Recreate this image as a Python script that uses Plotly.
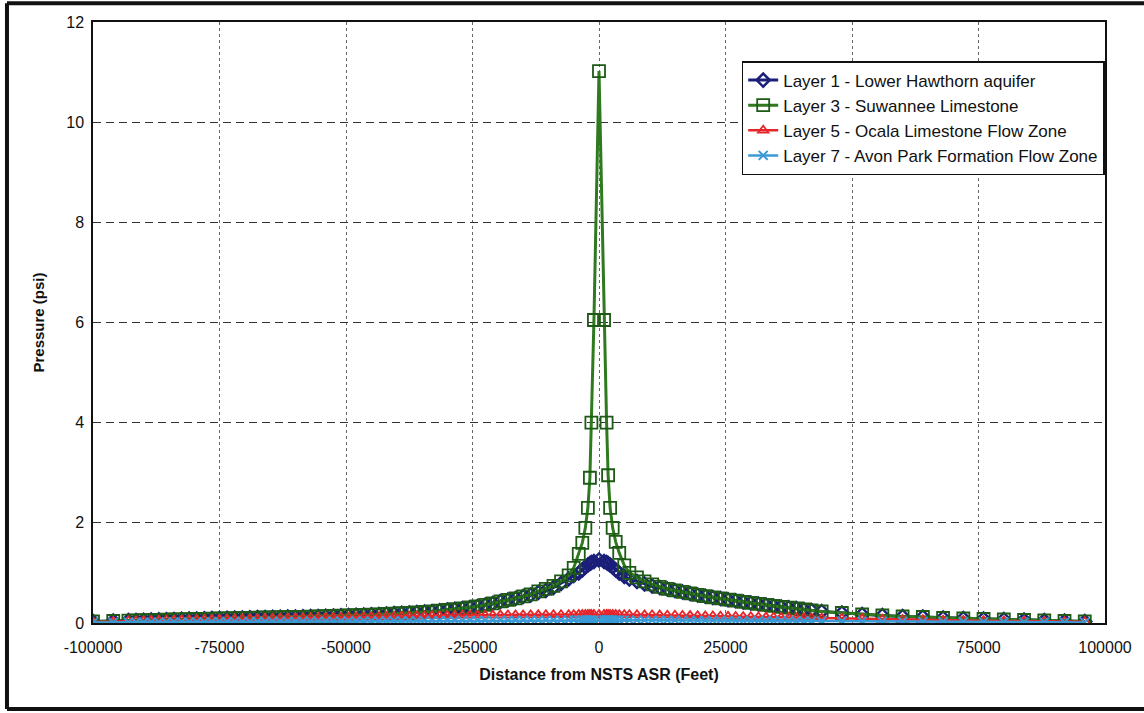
import plotly.graph_objects as go

# Distance from NSTS ASR (feet)
distance_ft = [
    -100000, -96000,
    -93000, -91500, -90000, -88500, -87000, -85500, -84000, -82500, -81000, -79500,
    -78000, -76500, -75000, -73500, -72000, -70500, -69000, -67500, -66000, -64500,
    -63000, -61500, -60000, -58500, -57000, -55500, -54000, -52500, -51000, -49500,
    -48000, -46500, -45000, -43500, -42000, -40500, -39000, -37500, -36000, -34500,
    -33000, -31500, -30000, -28500, -27000, -25500, -24000, -22500, -21000, -19500,
    -18000, -16500, -15000, -13500, -12000, -10500, -9000, -7500, -6000,
    -5000, -4000, -3300, -2700, -2200, -1800, -1500, -1000, 0,
    1000, 1500, 1800, 2200, 2700, 3300, 4000, 5000,
    6000, 7500, 9000, 10500, 12000, 13500, 15000, 16500, 18000, 19500,
    21000, 22500, 24000, 25500, 27000, 28500, 30000, 31500, 33000, 34500,
    36000, 37500, 39000, 40500, 42000,
    44000, 48000, 52000, 56000, 60000, 64000, 68000, 72000, 76000, 80000,
    84000, 88000, 92000, 96000,
]

# Layer 1 - Lower Hawthorn aquifer (psi)
layer1_psi = [
    0.03, 0.04,
    0.048, 0.052, 0.055, 0.058, 0.062, 0.065, 0.07, 0.073, 0.077, 0.08,
    0.084, 0.088, 0.09, 0.093, 0.097, 0.10, 0.103, 0.107, 0.11, 0.112,
    0.115, 0.118, 0.12, 0.124, 0.128, 0.131, 0.135, 0.14, 0.145, 0.15,
    0.155, 0.16, 0.165, 0.17, 0.18, 0.187, 0.195, 0.20, 0.21, 0.22,
    0.23, 0.245, 0.26, 0.275, 0.29, 0.31, 0.33, 0.36, 0.39, 0.43,
    0.46, 0.49, 0.53, 0.56, 0.61, 0.65, 0.71, 0.79, 0.88,
    0.95, 1.00, 1.06, 1.12, 1.16, 1.19, 1.21, 1.23, 1.26,
    1.23, 1.21, 1.19, 1.16, 1.12, 1.06, 1.00, 0.93,
    0.88, 0.83, 0.78, 0.74, 0.71, 0.68, 0.65, 0.62, 0.59, 0.56,
    0.535, 0.51, 0.49, 0.465, 0.445, 0.42, 0.40, 0.38, 0.36, 0.34,
    0.32, 0.305, 0.29, 0.27, 0.25,
    0.23, 0.20, 0.17, 0.15, 0.13, 0.12, 0.10, 0.09, 0.08, 0.07,
    0.06, 0.05, 0.04, 0.03,
]

# Layer 3 - Suwannee Limestone (psi)
layer3_psi = [
    0.03, 0.04,
    0.048, 0.052, 0.055, 0.058, 0.062, 0.065, 0.07, 0.073, 0.077, 0.08,
    0.084, 0.088, 0.09, 0.093, 0.097, 0.10, 0.103, 0.107, 0.11, 0.112,
    0.115, 0.118, 0.12, 0.124, 0.128, 0.131, 0.135, 0.14, 0.145, 0.15,
    0.155, 0.16, 0.165, 0.17, 0.18, 0.187, 0.195, 0.20, 0.21, 0.22,
    0.23, 0.245, 0.26, 0.275, 0.29, 0.31, 0.33, 0.36, 0.39, 0.43,
    0.46, 0.49, 0.53, 0.57, 0.63, 0.68, 0.74, 0.83, 0.95,
    1.10, 1.38, 1.60, 1.90, 2.30, 2.90, 4.00, 6.05, 11.02,
    6.05, 4.00, 2.95, 2.30, 1.90, 1.62, 1.40, 1.15,
    1.00, 0.91, 0.83, 0.77, 0.72, 0.68, 0.65, 0.62, 0.59, 0.56,
    0.535, 0.51, 0.49, 0.465, 0.445, 0.42, 0.40, 0.38, 0.36, 0.34,
    0.32, 0.305, 0.29, 0.27, 0.25,
    0.23, 0.20, 0.17, 0.15, 0.13, 0.12, 0.10, 0.09, 0.08, 0.07,
    0.06, 0.05, 0.04, 0.03,
]

# Layer 5 - Ocala Limestone Flow Zone (psi)
layer5_psi = [
    0.02, 0.03,
    0.04, 0.043, 0.046, 0.049, 0.052, 0.055, 0.058, 0.061, 0.064, 0.067,
    0.07, 0.072, 0.074, 0.077, 0.08, 0.082, 0.085, 0.087, 0.09, 0.092,
    0.095, 0.097, 0.10, 0.102, 0.105, 0.107, 0.11, 0.112, 0.115, 0.117,
    0.12, 0.122, 0.125, 0.127, 0.13, 0.132, 0.135, 0.137, 0.14, 0.142,
    0.144, 0.146, 0.148, 0.15, 0.152, 0.154, 0.155, 0.156, 0.157, 0.158,
    0.159, 0.16, 0.161, 0.162, 0.163, 0.164, 0.165, 0.165, 0.166,
    0.167, 0.168, 0.168, 0.169, 0.169, 0.17, 0.17, 0.17, 0.17,
    0.17, 0.17, 0.169, 0.169, 0.168, 0.168, 0.167, 0.166,
    0.165, 0.164, 0.162, 0.16, 0.158, 0.156, 0.154, 0.151, 0.148, 0.145,
    0.142, 0.139, 0.136, 0.133, 0.13, 0.127, 0.124, 0.121, 0.118, 0.115,
    0.112, 0.109, 0.106, 0.103, 0.10,
    0.097, 0.09, 0.083, 0.076, 0.07, 0.064, 0.058, 0.052, 0.047, 0.042,
    0.037, 0.033, 0.029, 0.025,
]

# Layer 7 - Avon Park Formation Flow Zone (psi)
layer7_psi = [
    0.01, 0.012,
    0.014, 0.015, 0.016, 0.017, 0.018, 0.019, 0.02, 0.021, 0.021, 0.022,
    0.023, 0.024, 0.025, 0.026, 0.027, 0.027, 0.028, 0.029, 0.03, 0.031,
    0.032, 0.033, 0.033, 0.034, 0.035, 0.036, 0.037, 0.038, 0.038, 0.039,
    0.04, 0.041, 0.042, 0.043, 0.044, 0.044, 0.045, 0.046, 0.047, 0.048,
    0.048, 0.049, 0.05, 0.05, 0.051, 0.052, 0.052, 0.053, 0.053, 0.054,
    0.054, 0.055, 0.055, 0.056, 0.056, 0.056, 0.057, 0.057, 0.057,
    0.058, 0.058, 0.059, 0.059, 0.06, 0.06, 0.06, 0.06, 0.06,
    0.06, 0.06, 0.06, 0.06, 0.059, 0.059, 0.058, 0.058,
    0.057, 0.057, 0.056, 0.056, 0.055, 0.055, 0.054, 0.053, 0.053, 0.052,
    0.051, 0.05, 0.05, 0.049, 0.048, 0.047, 0.046, 0.045, 0.045, 0.044,
    0.043, 0.042, 0.041, 0.04, 0.039,
    0.038, 0.036, 0.034, 0.032, 0.03, 0.028, 0.026, 0.024, 0.022, 0.02,
    0.018, 0.016, 0.014, 0.012,
]

series_names = [
    "Layer 1 - Lower Hawthorn aquifer",
    "Layer 3 - Suwannee Limestone",
    "Layer 5 - Ocala Limestone Flow Zone",
    "Layer 7 - Avon Park Formation Flow Zone",
]

x_ticks = [-100000, -75000, -50000, -25000, 0, 25000, 50000, 75000, 100000]
y_ticks = [0, 2, 4, 6, 8, 10, 12]

for arr in (layer1_psi, layer3_psi, layer5_psi, layer7_psi):
    assert len(arr) == len(distance_ft), len(arr)

FONT = "Liberation Sans, Arial, sans-serif"

fig = go.Figure()

fig.add_trace(go.Scatter(
    x=distance_ft, y=layer1_psi, name=series_names[0], mode="lines+markers",
    line=dict(color="#1b1f7a", width=3),
    marker=dict(symbol="diamond-open", size=10, color="#1b1f7a", line=dict(width=2.5)),
))
fig.add_trace(go.Scatter(
    x=distance_ft, y=layer3_psi, name=series_names[1], mode="lines+markers",
    line=dict(color="#2f7a1f", width=3),
    marker=dict(symbol="square-open", size=12, color="#1d5a16", line=dict(width=1.8)),
))
fig.add_trace(go.Scatter(
    x=distance_ft, y=layer5_psi, name=series_names[2], mode="lines+markers",
    line=dict(color="#e5262b", width=2.5),
    marker=dict(symbol="triangle-up-open", size=9, color="#e5262b", line=dict(width=1.8)),
))
fig.add_trace(go.Scatter(
    x=distance_ft, y=layer7_psi, name=series_names[3], mode="lines+markers",
    line=dict(color="#3a9ad6", width=2.5),
    marker=dict(symbol="x-thin", size=9, color="#3a9ad6", line=dict(width=2, color="#3a9ad6")),
))

# outer chart frame (top, left, bottom edges)
frame = dict(color="#111111", width=4)
fig.add_shape(type="line", xref="paper", yref="paper", x0=-0.085, x1=1.05, y0=1.031, y1=1.031, line=frame)
fig.add_shape(type="line", xref="paper", yref="paper", x0=-0.085, x1=-0.085, y0=1.031, y1=-0.143, line=frame)
fig.add_shape(type="line", xref="paper", yref="paper", x0=-0.085, x1=1.05, y0=-0.143, y1=-0.143, line=frame)

fig.update_layout(
    width=1144, height=713,
    margin=dict(l=93, r=37, t=22, b=90),
    paper_bgcolor="white", plot_bgcolor="white",
    font=dict(family=FONT, size=16, color="#111111"),
    showlegend=True,
    legend=dict(
        x=0.641, y=0.935, xanchor="left", yanchor="top",
        bgcolor="white", bordercolor="#111111", borderwidth=1.5,
        font=dict(family=FONT, size=17, color="#111111"),
        itemwidth=30, tracegroupgap=0,
    ),
    xaxis=dict(
        range=[-100000, 100000], tickvals=x_ticks, ticktext=[str(v) for v in x_ticks],
        showgrid=True, gridcolor="#666666", griddash="dot", gridwidth=1,
        showline=True, linecolor="#111111", linewidth=1.5, mirror=True,
        zeroline=False, ticks="", ticklen=0, ticklabelstandoff=9,
        tickfont=dict(family=FONT, size=16, color="#111111"),
        title=dict(text="<b>Distance from NSTS ASR (Feet)</b>", font=dict(family=FONT, size=16), standoff=14),
    ),
    yaxis=dict(
        range=[0, 12], tickvals=y_ticks, ticktext=[str(v) for v in y_ticks],
        showgrid=True, gridcolor="#333333", griddash="8px,5px", gridwidth=1,
        showline=True, linecolor="#111111", linewidth=1.5, mirror=True,
        zeroline=False, ticks="", ticklen=0, ticklabelstandoff=4,
        tickfont=dict(family=FONT, size=16, color="#111111"),
        title=dict(text="<b>Pressure (psi)</b>", font=dict(family=FONT, size=15), standoff=18),
    ),
)

fig.write_html("out.html", config={"displayModeBar": False},
               post_script="document.body.style.margin='0';")
